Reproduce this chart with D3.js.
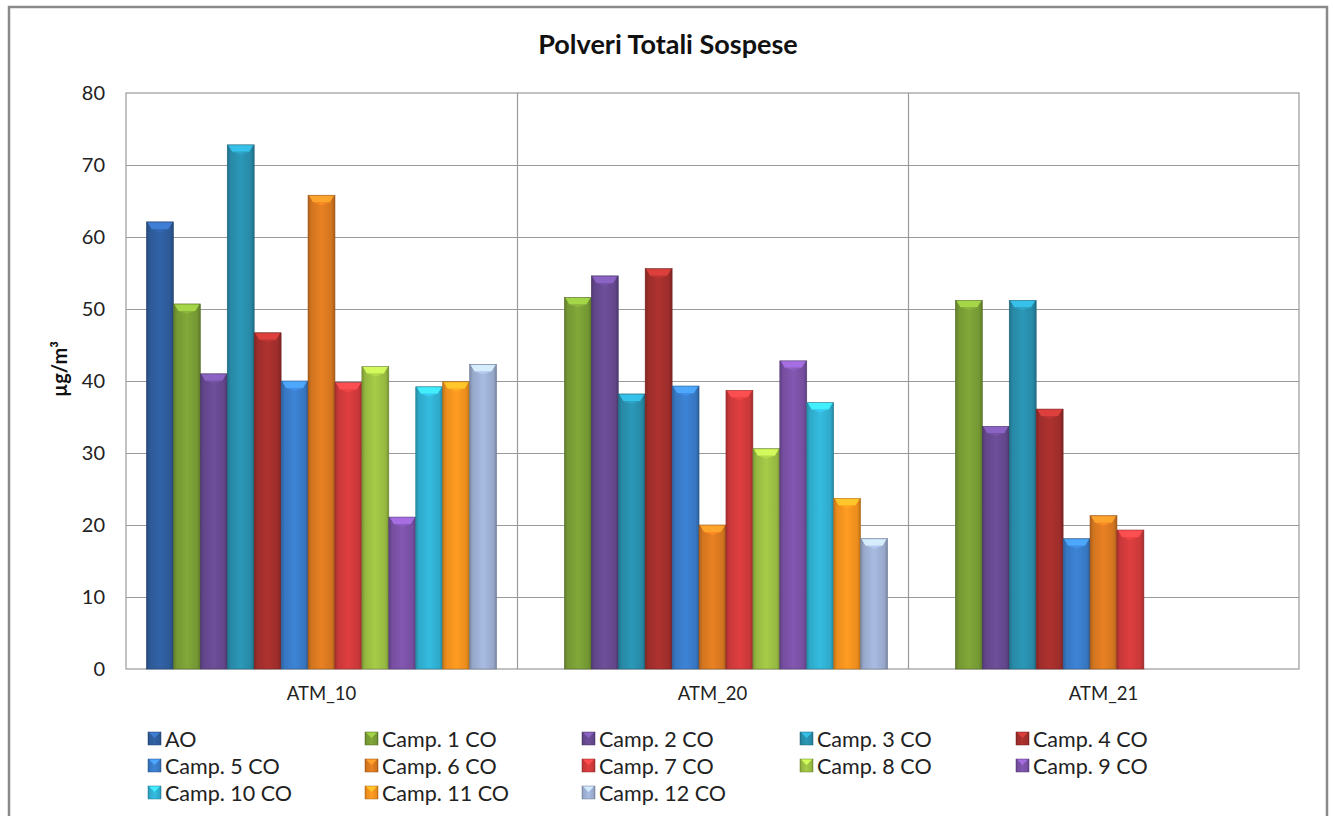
<!DOCTYPE html>
<html><head><meta charset="utf-8">
<script src="https://cdn.jsdelivr.net/npm/d3@7"></script>
<style>
html,body{margin:0;padding:0;background:#fff;}
svg{display:block;font-family:Lato,"Open Sans",sans-serif;}
</style></head>
<body>
<svg id="chart" width="1333" height="816"></svg>
<script>
const categories = ["ATM_10", "ATM_20", "ATM_21"];
const seriesNames = ["AO", "Camp. 1 CO", "Camp. 2 CO", "Camp. 3 CO", "Camp. 4 CO", "Camp. 5 CO", "Camp. 6 CO", "Camp. 7 CO", "Camp. 8 CO", "Camp. 9 CO", "Camp. 10 CO", "Camp. 11 CO", "Camp. 12 CO"];
const atm10 = [62.1, 50.7, 41.0, 72.8, 46.7, 40.0, 65.8, 39.8, 42.0, 21.1, 39.2, 39.9, 42.3];
const atm20 = [null, 51.6, 54.6, 38.2, 55.6, 39.3, 20.0, 38.7, 30.6, 42.8, 37.0, 23.7, 18.1];
const atm21 = [null, 51.2, 33.7, 51.2, 36.1, 18.1, 21.3, 19.3, null, null, null, null, null];
const seriesColors = ["#2F5E9E", "#7A9F36", "#674A92", "#2990AE", "#A52F2D", "#3A7DCB", "#DD7A21", "#D33B3C", "#9DC144", "#7B52A8", "#31B2D4", "#F7941F", "#9FB1D5"];
const yTicks = [0, 10, 20, 30, 40, 50, 60, 70, 80];

const values = [atm10, atm20, atm21];
const svg = d3.select("#chart");

// outer border
svg.append("rect").attr("x", 9).attr("y", 7).attr("width", 1318).attr("height", 830)
  .attr("fill", "#fff").attr("stroke", "#8a8a8a").attr("stroke-width", 2.5);

const plot = {left: 126, right: 1299, top: 93, bottom: 669};
const y = d3.scaleLinear().domain([0, 80]).range([plot.bottom, plot.top]);
const x0 = d3.scaleBand().domain(categories).range([plot.left, plot.right]).paddingInner(0).paddingOuter(0);
const x1 = d3.scaleBand().domain(seriesNames).range([0, x0.bandwidth()]).paddingOuter(0.76).paddingInner(0);

// gradients
const defs = svg.append("defs");
seriesNames.forEach((s, i) => {
  const c = d3.color(seriesColors[i]);
  const g = defs.append("linearGradient").attr("id", "g" + i).attr("x1", 0).attr("x2", 1).attr("y1", 0).attr("y2", 0);
  g.append("stop").attr("offset", "0%").attr("stop-color", c.darker(0.7));
  g.append("stop").attr("offset", "12%").attr("stop-color", c.darker(0.15));
  g.append("stop").attr("offset", "50%").attr("stop-color", c.brighter(0.15));
  g.append("stop").attr("offset", "88%").attr("stop-color", c.darker(0.15));
  g.append("stop").attr("offset", "100%").attr("stop-color", c.darker(0.8));
});

// plot area border and grid
svg.append("rect").attr("x", plot.left).attr("y", plot.top)
  .attr("width", plot.right - plot.left).attr("height", plot.bottom - plot.top)
  .attr("fill", "none").attr("stroke", "#9a9a9a").attr("stroke-width", 1.2);

svg.append("g").selectAll("line").data(yTicks.filter(d => d > 0 && d < 80)).join("line")
  .attr("x1", plot.left).attr("x2", plot.right)
  .attr("y1", d => Math.round(y(d)) + 0.5).attr("y2", d => Math.round(y(d)) + 0.5)
  .attr("stroke", "#9a9a9a").attr("stroke-width", 1.2);

svg.append("g").selectAll("line").data(categories.slice(1)).join("line")
  .attr("x1", d => Math.round(x0(d)) + 0.5).attr("x2", d => Math.round(x0(d)) + 0.5)
  .attr("y1", plot.top).attr("y2", plot.bottom)
  .attr("stroke", "#9a9a9a").attr("stroke-width", 1.2);

// y axis labels
const yAxis = d3.axisLeft(y).tickValues(yTicks).tickSize(0).tickPadding(21);
const ya = svg.append("g").attr("transform", `translate(${plot.left},0)`).call(yAxis);
ya.select(".domain").remove();
ya.selectAll("text").attr("font-size", 20).attr("fill", "#222").attr("font-family", "Lato, sans-serif");

// x axis labels
const xAxis = d3.axisBottom(x0).tickSize(0).tickPadding(18);
const xa = svg.append("g").attr("transform", `translate(0,${plot.bottom})`).call(xAxis);
xa.select(".domain").remove();
xa.selectAll("text").attr("font-size", 18.5).attr("fill", "#222").attr("font-family", "Lato, sans-serif");

// bars
const bars = [];
categories.forEach((cat, ci) => {
  seriesNames.forEach((s, si) => {
    const v = values[ci][si];
    if (v != null) bars.push({cat, s, si, v});
  });
});
const bw = x1.bandwidth();
const bg = svg.append("g");
const barG = bg.selectAll("g").data(bars).join("g")
  .attr("transform", d => `translate(${x0(d.cat) + x1(d.s)},0)`);
barG.append("rect")
  .attr("x", 0).attr("y", d => y(d.v)).attr("width", bw).attr("height", d => y(0) - y(d.v))
  .attr("fill", d => `url(#g${d.si})`)
  .attr("stroke", d => d3.color(seriesColors[d.si]).darker(1)).attr("stroke-width", 0.6);
// top bevel highlight
barG.append("path")
  .attr("d", d => {
    const t = y(d.v);
    return `M1,${t + 0.5} L${bw - 1},${t + 0.5} L${bw - 5},${t + 7} L5,${t + 7} Z`;
  })
  .attr("fill", d => d3.color(seriesColors[d.si]).brighter(0.9)).attr("opacity", 0.9);
barG.append("path")
  .attr("d", d => {
    const t = y(d.v);
    return `M5,${t + 7} L${bw - 5},${t + 7} L${bw / 2},${t + 10} Z`;
  })
  .attr("fill", d => d3.color(seriesColors[d.si]).brighter(0.4)).attr("opacity", 0.8);

// title
svg.append("text").attr("x", 668).attr("y", 54).attr("text-anchor", "middle")
  .attr("font-size", 27).attr("font-weight", "bold").attr("fill", "#111")
  .attr("font-family", "Lato, sans-serif")
  .text("Polveri Totali Sospese");

// y title
svg.append("text").attr("transform", `translate(67,369) rotate(-90)`).attr("text-anchor", "middle")
  .attr("font-size", 20).attr("font-weight", "bold").attr("fill", "#111")
  .text("µg/m³");

// legend
const legCols = [148, 365, 582, 800, 1016];
const legRows = [739, 766, 793];
const lg = svg.append("g").selectAll("g").data(seriesNames).join("g")
  .attr("transform", (d, i) => `translate(${legCols[i % 5]},${legRows[Math.floor(i / 5)]})`);
lg.append("rect").attr("x", 0).attr("y", -7).attr("width", 13).attr("height", 13)
  .attr("fill", (d, i) => `url(#g${i})`)
  .attr("stroke", (d, i) => d3.color(seriesColors[i]).darker(1)).attr("stroke-width", 0.5);
lg.append("path").attr("d", "M1,-6.5 L12,-6.5 L6.5,-1 Z")
  .attr("fill", (d, i) => d3.color(seriesColors[i]).brighter(0.8));
lg.append("text").attr("x", 17).attr("y", 0).attr("dy", "0.35em")
  .attr("font-size", 21.5).attr("fill", "#222").attr("font-family", "Lato, sans-serif")
  .text(d => d);
</script>
</body></html>
